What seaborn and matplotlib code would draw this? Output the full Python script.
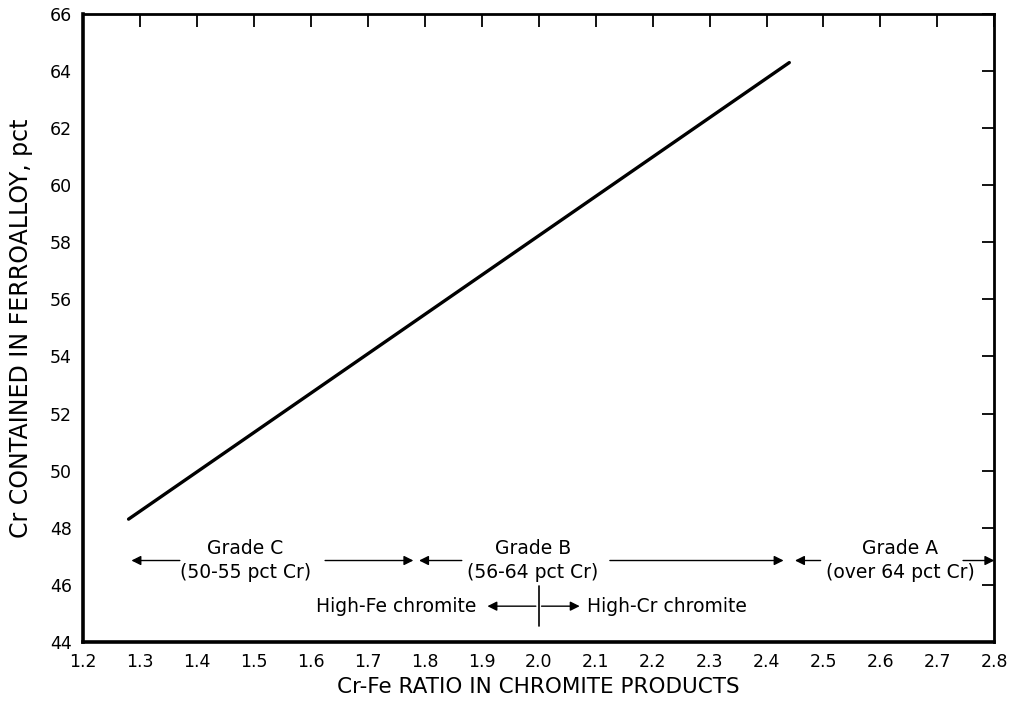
import matplotlib
matplotlib.use("Agg")
import matplotlib.pyplot as plt
import seaborn as sns
import pandas as pd

# line endpoints
ratio = [1.28, 2.44]
cr_pct = [48.3, 64.3]

x_ticks = [1.2, 1.3, 1.4, 1.5, 1.6, 1.7, 1.8, 1.9, 2.0, 2.1, 2.2, 2.3, 2.4, 2.5, 2.6, 2.7, 2.8]
y_ticks = [44, 46, 48, 50, 52, 54, 56, 58, 60, 62, 64, 66]

# grade ranges along the x axis
grade_names = ["Grade C", "Grade B", "Grade A"]
grade_sub = ["(50-55 pct Cr)", "(56-64 pct Cr)", "(over 64 pct Cr)"]
grade_lo = [1.285, 1.79, 2.45]
grade_hi = [1.78, 2.43, 2.80]
grade_mid = [1.485, 1.99, 2.635]
grade_left_tail = [1.37, 1.865, 2.495]
grade_right_tail = [1.625, 2.125, 2.745]

sns.set_style("white")
plt.rcParams['font.family'] = ['DejaVu Sans']
plt.rcParams['text.color'] = 'black'
plt.rcParams['axes.labelcolor'] = 'black'

fig = plt.figure(figsize=(10.16, 7.03), dpi=100)
ax = fig.add_axes([0.0817, 0.087, 0.897, 0.893])

df = pd.DataFrame({"ratio": ratio, "cr": cr_pct})
sns.lineplot(data=df, x="ratio", y="cr", color="black", linewidth=2.4, ax=ax)

ax.set_xlim(1.2, 2.8)
ax.set_ylim(44, 66)
ax.set_xticks(x_ticks)
ax.set_xticklabels([f"{v:.1f}" for v in x_ticks])
ax.set_yticks(y_ticks)
ax.tick_params(direction="in", length=9, width=1.3, top=True, right=True,
               labelsize=12.5, colors="black", pad=8)
for s in ax.spines.values():
    s.set_color("black")
    s.set_linewidth(2.0)
ax.spines["left"].set_linewidth(2.6)
ax.spines["bottom"].set_linewidth(2.6)

ax.set_xlabel("Cr-Fe RATIO IN CHROMITE PRODUCTS", fontsize=15.5, labelpad=4)
ax.set_ylabel("Cr CONTAINED IN FERROALLOY, pct", fontsize=17, labelpad=12)

arrow = dict(arrowstyle="-|>", color="black", lw=1.0, mutation_scale=14, shrinkA=0, shrinkB=0)
y_row = 46.85
for i in range(3):
    ax.text(grade_mid[i], y_row + 0.42, grade_names[i], ha="center", va="center", fontsize=13.5)
    ax.text(grade_mid[i], y_row - 0.42, grade_sub[i], ha="center", va="center", fontsize=13.5)
    ax.annotate("", xy=(grade_lo[i], y_row), xytext=(grade_left_tail[i], y_row), arrowprops=arrow)
    ax.annotate("", xy=(grade_hi[i], y_row), xytext=(grade_right_tail[i], y_row), arrowprops=arrow)

# high-Fe / high-Cr divider at ratio 2.0
y_div = 45.25
ax.plot([2.0, 2.0], [44.55, 45.95], color="black", lw=1.2)
ax.annotate("", xy=(1.91, y_div), xytext=(1.995, y_div), arrowprops=arrow)
ax.annotate("", xy=(2.072, y_div), xytext=(2.005, y_div), arrowprops=arrow)
ax.text(1.89, y_div, "High-Fe chromite", ha="right", va="center", fontsize=13.5)
ax.text(2.085, y_div, "High-Cr chromite", ha="left", va="center", fontsize=13.5)

fig.savefig("out.png", dpi=100)
